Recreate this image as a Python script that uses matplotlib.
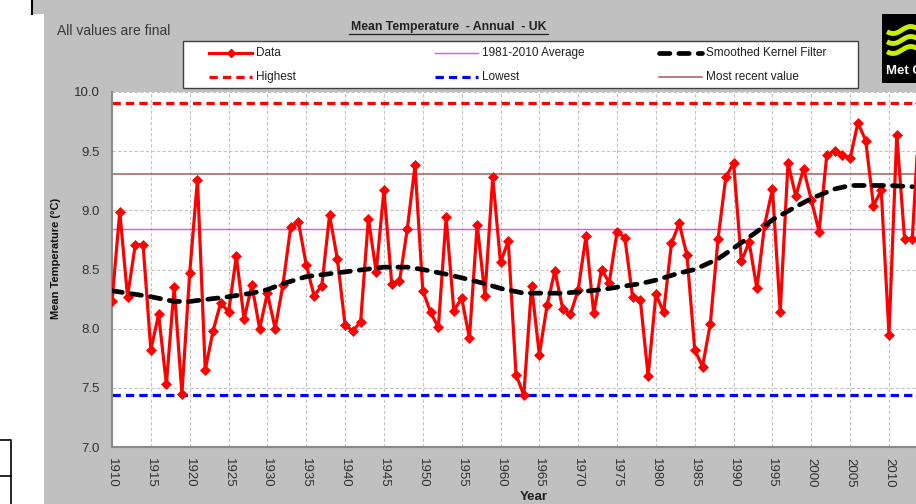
import numpy as np
import matplotlib
matplotlib.use("Agg")
import matplotlib.pyplot as plt
from matplotlib.lines import Line2D
from matplotlib.patches import Rectangle

plt.rcParams['font.family'] = ['Liberation Sans', 'DejaVu Sans']

# annual UK mean temperature
years = list(range(1910, 2016))
temps = [8.23, 8.99, 8.27, 8.71, 8.71, 7.82, 8.12, 7.53, 8.35, 7.45,
         8.47, 9.26, 7.65, 7.98, 8.22, 8.14, 8.61, 8.08, 8.37, 8.00,
         8.30, 8.00, 8.37, 8.86, 8.90, 8.54, 8.28, 8.36, 8.96, 8.59,
         8.03, 7.98, 8.06, 8.93, 8.48, 9.17, 8.38, 8.40, 8.84, 9.38,
         8.32, 8.14, 8.01, 8.94, 8.15, 8.26, 7.92, 8.88, 8.28, 9.28,
         8.56, 8.74, 7.61, 7.44, 8.36, 7.78, 8.20, 8.49, 8.17, 8.12,
         8.33, 8.78, 8.13, 8.50, 8.39, 8.82, 8.77, 8.27, 8.24, 7.60,
         8.29, 8.14, 8.72, 8.89, 8.62, 7.82, 7.68, 8.04, 8.76, 9.28,
         9.40, 8.57, 8.73, 8.34, 8.88, 9.18, 8.14, 9.40, 9.12, 9.35,
         9.09, 8.82, 9.47, 9.50, 9.47, 9.44, 9.74, 9.59, 9.04, 9.17,
         7.95, 9.64, 8.76, 8.76, 9.91, 9.31]

# smoothed kernel filter curve (sampled)
smooth_years = [1910, 1915, 1918, 1920, 1925, 1928, 1930, 1932, 1935, 1940,
                1945, 1948, 1950, 1953, 1955, 1958, 1960, 1963, 1965, 1968,
                1970, 1973, 1975, 1978, 1980, 1983, 1985, 1988, 1990, 1993,
                1995, 1998, 2000, 2003, 2005, 2007, 2010, 2013]
smooth_vals = [8.32, 8.27, 8.23, 8.23, 8.27, 8.30, 8.33, 8.38, 8.44, 8.48,
               8.52, 8.52, 8.50, 8.46, 8.43, 8.38, 8.34, 8.30, 8.30, 8.30,
               8.31, 8.33, 8.35, 8.38, 8.41, 8.47, 8.50, 8.59, 8.68, 8.82,
               8.92, 9.03, 9.10, 9.18, 9.21, 9.21, 9.21, 9.20]

highest = 9.91
lowest = 7.44
average_81_10 = 8.84
most_recent = 9.31

W, H = 916, 504
BG = '#c0c0c0'


def fx(x):
    return x / W


def fy(y):
    return 1 - y / H


fig = plt.figure(figsize=(W / 100, H / 100), dpi=100, facecolor=BG)

# white page around the panel
fig.add_artist(Rectangle((0, 0), fx(44), fy(14), transform=fig.transFigure,
                         facecolor='white', edgecolor='none', zorder=0))
fig.add_artist(Rectangle((0, fy(14)), fx(32), 1 - fy(14), transform=fig.transFigure,
                         facecolor='white', edgecolor='none', zorder=0))
fig.add_artist(Line2D([fx(32), fx(32)], [fy(14), 1], transform=fig.transFigure,
                      color='black', lw=1.5))
fig.add_artist(Line2D([0, fx(11), fx(11)], [fy(440), fy(440), 0], transform=fig.transFigure,
                      color='black', lw=1.2))
fig.add_artist(Line2D([0, fx(11)], [fy(476), fy(476)], transform=fig.transFigure,
                      color='black', lw=1.2))
fig.text(fx(527), fy(-3), 'Year', ha='center', va='center', fontsize=9.5,
         fontweight='bold', color='#202020')

# axes: 1910 at x=112, 7.77 px per year, extends past the right edge
x0, px_per_year = 112, 7.77
x_end = 2016
ax_w = (x_end - 1910) * px_per_year
ax = fig.add_axes([fx(x0), fy(447), ax_w / W, (447 - 92) / H])
ax.set_facecolor('white')
ax.set_xlim(1910, x_end)
ax.set_ylim(7.0, 10.0)

ax.set_xticks(range(1910, 2016, 5))
ax.set_yticks(np.arange(7.0, 10.01, 0.5))
ax.set_yticklabels(['%.1f' % v for v in np.arange(7.0, 10.01, 0.5)])
ax.tick_params(axis='both', length=0, labelsize=9.5, labelcolor='#303030')
ax.tick_params(axis='y', pad=9)
ax.tick_params(axis='x', pad=8, labelrotation=-90)
ax.grid(True, color='#c4c4c4', linestyle=(0, (3, 2)), lw=0.8)
ax.set_axisbelow(True)
for s in ['top', 'right']:
    ax.spines[s].set_visible(False)
for s in ['left', 'bottom']:
    ax.spines[s].set_color('#8a8a8a')
    ax.spines[s].set_linewidth(1.5)

ax.axhline(average_81_10, color='#ff40ff', lw=1.0, zorder=2)
ax.axhline(most_recent, color='#b06868', lw=1.2, zorder=2)
ax.axhline(highest, color='red', lw=2.3, linestyle=(0, (2.6, 1.6)), zorder=2)
ax.axhline(lowest, color='blue', lw=2.3, linestyle=(0, (2.6, 1.6)), zorder=2)
ax.plot(years, temps, color='red', lw=2.3, marker='D', markersize=5,
        markeredgewidth=0.5, zorder=3)
ax.plot(smooth_years, smooth_vals, color='black', lw=3.4, linestyle=(0, (2.2, 1.9)),
        dash_capstyle='round', zorder=4)

fig.text(fx(56), fy(258), 'Mean Temperature (\u00b0C)', rotation=90, ha='center',
         va='center', fontsize=8, fontweight='bold', color='#101010')
fig.text(fx(534), fy(497), 'Year', ha='center', va='center', fontsize=9.5,
         fontweight='bold', color='#202020')

# header texts
fig.text(fx(57), fy(31), 'All values are final', ha='left', va='center',
         fontsize=10, color='#383838')
fig.text(fx(448.5), fy(27), 'Mean Temperature  - Annual  - UK', ha='center', va='center',
         fontsize=8.8, fontweight='bold', color='#202020')
fig.add_artist(Line2D([fx(349), fx(548)], [fy(33.5), fy(33.5)], transform=fig.transFigure,
                      color='#202020', lw=0.9))

# legend box
fig.add_artist(Rectangle((fx(183), fy(88)), (858 - 183) / W, (88 - 41) / H,
                         transform=fig.transFigure, facecolor='white',
                         edgecolor='#404040', lw=1.0, zorder=5))
legend_items = [
    (209, 53, 'Data', dict(color='red', lw=2.3, marker='D', markersize=4.5,
                           markevery=[1])),
    (209, 77, 'Highest', dict(color='red', lw=2.3, linestyle=(0, (2.6, 1.6)))),
    (435, 53, '1981-2010 Average', dict(color='#ff40ff', lw=1.0)),
    (435, 77, 'Lowest', dict(color='blue', lw=2.3, linestyle=(0, (2.6, 1.6)))),
    (659, 53, 'Smoothed Kernel Filter', dict(color='black', lw=3.4,
                                             linestyle=(0, (2.2, 1.9)),
                                             dash_capstyle='round')),
    (659, 77, 'Most recent value', dict(color='#b06868', lw=1.2)),
]
for lx, ly, label, style in legend_items:
    fig.add_artist(Line2D([fx(lx), fx(lx + 21.5), fx(lx + 43)], [fy(ly)] * 3,
                          transform=fig.transFigure, zorder=6, **style))
    fig.text(fx(lx + 47), fy(ly), label, ha='left', va='center', fontsize=8.5,
             color='#202020', zorder=6)

# Met Office logo (partly cut off)
fig.add_artist(Rectangle((fx(882), fy(83)), (W - 882) / W, (83 - 14) / H,
                         transform=fig.transFigure, facecolor='black',
                         edgecolor='none', zorder=5))
t = np.linspace(0, 1, 30)
for base in [30, 40, 50]:
    wx = 887 + t * 32
    wy = base + 3.5 * np.sin(t * 2 * np.pi * 0.9 + 0.5)
    fig.add_artist(Line2D(fx(wx), fy(wy), transform=fig.transFigure,
                          color='#c8f000', lw=3.5, solid_capstyle='butt', zorder=6))
fig.text(fx(886), fy(71), 'Met Office', ha='left', va='center', fontsize=9.5,
         fontweight='bold', color='white', zorder=6)

fig.savefig('out.png', dpi=100, facecolor=BG)
